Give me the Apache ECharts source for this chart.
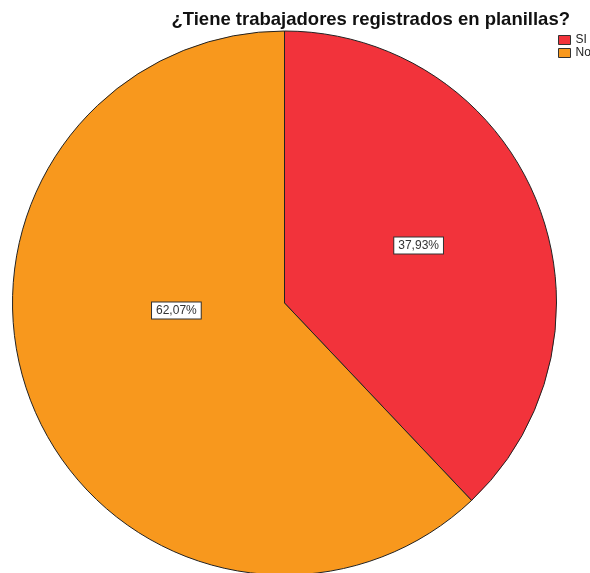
<!DOCTYPE html>
<html>
<head>
<meta charset="utf-8">
<style>html,body{margin:0;padding:0;background:#fff}#c{width:590px;height:573px}</style>
<script src="https://cdn.jsdelivr.net/npm/echarts@6/dist/echarts.min.js"></script>
</head>
<body>
<div id="c"></div>
<script>
const titleText = '¿Tiene trabajadores registrados en planillas?';
const categories = ['SI', 'No'];
const values = [37.93, 62.07];
const colors = ['#F2333B', '#F8981D'];
const labelOffsets = [[5, -6], [21, -44]];

const chart = echarts.init(document.getElementById('c'));
chart.setOption({
  animation: false,
  title: {
    text: titleText,
    right: 15,
    top: 5,
    textStyle: { fontFamily: 'Liberation Sans', fontWeight: 'bold', fontSize: 18.5, color: '#111' }
  },
  legend: {
    orient: 'vertical',
    left: 558,
    top: 34,
    itemWidth: 12,
    itemHeight: 9,
    itemGap: 1,
    icon: 'rect',
    padding: 0,
    textStyle: { fontFamily: 'Liberation Sans', fontSize: 12, color: '#222' },
    itemStyle: { borderColor: '#333', borderWidth: 1 },
    data: categories
  },
  series: [{
    type: 'pie',
    center: [284.5, 303],
    radius: 272,
    startAngle: 90,
    clockwise: true,
    silent: true,
    itemStyle: { borderColor: '#222', borderWidth: 1 },
    label: {
      position: 'inside',
      formatter: p => p.value.toFixed(2).replace('.', ',') + '%',
      fontFamily: 'Liberation Sans',
      fontSize: 12,
      color: '#333',
      backgroundColor: '#fff',
      borderColor: '#333',
      borderWidth: 1,
      padding: [2, 4, 2, 4]
    },
    labelLine: { show: false },
    data: categories.map((c, i) => ({
      name: c,
      value: values[i],
      itemStyle: { color: colors[i] },
      label: { offset: labelOffsets[i] }
    }))
  }]
});
</script>
</body>
</html>
